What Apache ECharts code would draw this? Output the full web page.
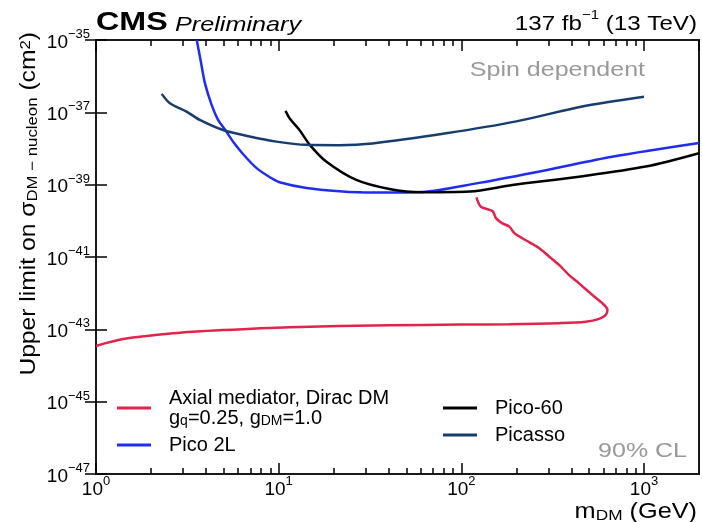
<!DOCTYPE html>
<html>
<head>
<meta charset="utf-8">
<script src="https://cdn.jsdelivr.net/npm/echarts@6/dist/echarts.min.js"></script>
<style>
html,body{margin:0;padding:0;background:#ffffff;}
#chart{width:702px;height:522px;}
</style>
</head>
<body>
<div id="chart"></div>
<script>
// ---- data (mass in GeV, cross section in cm^2) ----
const axialMass = [1.0, 1.41, 2.64, 4.96, 11.5, 40.4, 97.5, 183, 343, 480, 568, 618, 631, 592, 522, 441, 389, 343, 303, 267, 235, 216, 195, 183, 168, 155, 148, 128, 121];
const axialXsec = [3.47e-44, 5.37e-44, 7.76e-44, 9.55e-44, 1.15e-43, 1.29e-43, 1.35e-43, 1.38e-43, 1.48e-43, 1.62e-43, 1.95e-43, 2.51e-43, 3.47e-43, 5.25e-43, 8.91e-43, 1.86e-42, 3.16e-42, 6.03e-42, 1.02e-41, 1.74e-41, 2.57e-41, 3.31e-41, 4.57e-41, 6.92e-41, 8.51e-41, 1.17e-40, 1.86e-40, 2.45e-40, 4.47e-40];

const pico2LMass = [3.56, 3.75, 3.95, 4.3, 4.65, 5.07, 5.7, 6.5, 7.6, 9.0, 10.1, 14.2, 21.5, 32.6, 61, 125, 291, 669, 2000];
const pico2LXsec = [1.0e-35, 2.51e-36, 6.31e-37, 1.58e-37, 6.31e-38, 3.39e-38, 1.41e-38, 6.31e-39, 2.82e-39, 1.58e-39, 1.17e-39, 8.13e-40, 6.61e-40, 6.03e-40, 6.31e-40, 1.12e-39, 2.51e-39, 5.89e-39, 1.41e-38];

const pico60Mass = [10.9, 11.5, 13.0, 14.8, 18.2, 26.6, 40.4, 61, 111, 190, 441, 1020, 2000];
const pico60Xsec = [1.10e-37, 6.76e-38, 3.24e-38, 1.26e-38, 4.37e-39, 1.35e-39, 7.59e-40, 6.17e-40, 6.46e-40, 9.77e-40, 1.66e-39, 3.16e-39, 7.41e-39];

const picassoMass = [2.29, 2.54, 3.13, 3.70, 4.96, 6.94, 9.71, 14.2, 21.5, 32.6, 82.5, 200, 459, 1000];
const picassoXsec = [3.24e-37, 1.78e-37, 1.05e-37, 6.17e-38, 3.24e-38, 2.14e-38, 1.55e-38, 1.26e-38, 1.23e-38, 1.38e-38, 2.63e-38, 5.62e-38, 1.45e-37, 2.69e-37];

const seriesNames = ['Axial mediator, Dirac DM', 'Pico 2L', 'Pico-60', 'Picasso'];

// axis ranges and tick labels (decades)
const xRange = [1, 2000];
const yRange = [1e-47, 1e-35];
const xTickExponents = [0, 1, 2, 3];
const yTickExponents = [-47, -45, -43, -41, -39, -37, -35];
const minorMultipliers = [2, 3, 4, 5, 6, 7, 8, 9];
const minorDecades = [1, 10, 100];

// ---- styling ----
const FONT = '"Liberation Sans", Arial, Helvetica, sans-serif';
const RED = '#e2234c', BLUE = '#1f2cf2', BLACK = '#000000', NAVY = '#173d6e';

const L = Math.log10;
const toLog = (ms, ss) => ms.map((m, i) => [L(m), L(ss[i])]);
const minorVals = [];
minorDecades.forEach(d => minorMultipliers.forEach(k => minorVals.push(L(k * d))));

const X_MIN = L(xRange[0]), X_MAX = L(xRange[1]);
const Y_MIN = L(yRange[0]), Y_MAX = L(yRange[1]);

const tickRich = {
  b: {fontFamily: FONT, fontSize: 19, lineHeight: 24, color: '#000', verticalAlign: 'bottom'},
  s: {fontFamily: FONT, fontSize: 13, lineHeight: 13, color: '#000', verticalAlign: 'top'}
};
function expLabel(list) {
  return function (v) {
    const r = Math.round(v);
    if (Math.abs(v - r) > 1e-6 || list.indexOf(r) < 0) return '';
    return '{b|10}{s|' + (r < 0 ? '\u2212' + (-r) : String(r)) + '}';
  };
}
const tickLine = {color: '#000', width: 1.5};
function tickAxis(extra) {
  return Object.assign({
    type: 'value', axisLine: {show: false}, axisLabel: {show: false},
    splitLine: {show: false}
  }, extra);
}
const titleRich = {
  a: {fontFamily: FONT, fontSize: 22, lineHeight: 22, fill: '#000', verticalAlign: 'bottom'},
  s: {fontFamily: FONT, fontSize: 15, lineHeight: 12, fill: '#000', verticalAlign: 'bottom'},
  p: {fontFamily: FONT, fontSize: 15, lineHeight: 15, fill: '#000', verticalAlign: 'top'}
};

const option = {
  animation: false,
  backgroundColor: '#ffffff',
  grid: {left: 96, right: 3, top: 40, bottom: 48, show: true, borderColor: '#1a1a1a', borderWidth: 2,
    backgroundColor: 'transparent', containLabel: false, outerBoundsMode: 'none'},
  xAxis: [
    tickAxis({
      position: 'bottom', min: X_MIN, max: X_MAX, interval: 1,
      axisTick: {inside: true, length: 11, lineStyle: tickLine},
      axisLabel: {show: true, margin: 1, formatter: expLabel(xTickExponents), rich: tickRich, showMaxLabel: false}
    }),
    tickAxis({position: 'bottom', min: X_MIN, max: X_MAX, axisTick: {inside: true, length: 6, lineStyle: tickLine, customValues: minorVals}}),
    tickAxis({position: 'top', min: X_MIN, max: X_MAX, interval: 1, axisTick: {inside: true, length: 11, lineStyle: tickLine}}),
    tickAxis({position: 'top', min: X_MIN, max: X_MAX, axisTick: {inside: true, length: 6, lineStyle: tickLine, customValues: minorVals}})
  ],
  yAxis: [
    tickAxis({
      position: 'left', min: Y_MIN, max: Y_MAX, interval: 2,
      axisTick: {inside: true, length: 11, lineStyle: tickLine},
      axisLabel: {show: true, margin: 6, formatter: expLabel(yTickExponents), rich: tickRich}
    }),
    tickAxis({position: 'right', min: Y_MIN, max: Y_MAX, interval: 2, axisTick: {inside: true, length: 11, lineStyle: tickLine}})
  ],
  legend: [
    {name: seriesNames[0], left: 117, top: 388},
    {name: seriesNames[1], left: 117, top: 435},
    {name: seriesNames[2], left: 443, top: 398},
    {name: seriesNames[3], left: 443, top: 425}
  ].map(l => ({
    data: [l.name], left: l.left, top: l.top, orient: 'vertical', padding: 0,
    icon: 'rect', itemWidth: 34, itemHeight: 3, selectedMode: false,
    formatter: function (name) {
      if (name === seriesNames[0]) return '{t|Axial mediator, Dirac DM}\n{t|g}{s|q}{t|=0.25, g}{s|DM}{t|=1.0}';
      return '{t|' + name + '}';
    },
    textStyle: {fontFamily: FONT, fontSize: 20, color: '#000', padding: [0, 0, 0, 13],
      rich: {
        t: {fontFamily: FONT, fontSize: 20, lineHeight: 20, color: '#000', verticalAlign: 'bottom'},
        s: {fontFamily: FONT, fontSize: 14, lineHeight: 14, color: '#000', verticalAlign: 'bottom'}
      }}
  })),
  graphic: [
    {type: 'text', x: 96, y: 23, scaleX: 1.24, style: {text: 'CMS', font: 'bold 26px ' + FONT, fill: '#000', align: 'left', verticalAlign: 'middle'}},
    {type: 'text', x: 175, y: 25, scaleX: 1.2, style: {text: 'Preliminary', font: 'italic 21px ' + FONT, fill: '#000', align: 'left', verticalAlign: 'middle'}},
    {type: 'text', x: 697, y: 22, scaleX: 1.15, style: {text: '{a|137 fb}{s|\u22121}{a| (13 TeV)}', align: 'right', verticalAlign: 'middle',
      rich: {a: {fontFamily: FONT, fontSize: 21, lineHeight: 26, verticalAlign: 'bottom', fill: '#000'}, s: {fontFamily: FONT, fontSize: 13, lineHeight: 13, verticalAlign: 'top', fill: '#000'}}}},
    {type: 'text', x: 645, y: 70, scaleX: 1.25, style: {text: 'Spin dependent', font: '20px ' + FONT, fill: '#999999', align: 'right', verticalAlign: 'middle'}},
    {type: 'text', x: 687, y: 451, scaleX: 1.19, style: {text: '90% CL', font: '21px ' + FONT, fill: '#999999', align: 'right', verticalAlign: 'middle'}},
    // x-axis title
    {type: 'text', x: 697, y: 523, scaleX: 1.15, style: {text: '{a|m}{s|DM}{a| (GeV)}', align: 'right', verticalAlign: 'bottom', rich: titleRich}},
    // y-axis title (rotated, flush with the top of the frame)
    {type: 'text', x: 40, y: 32, rotation: Math.PI / 2, scaleX: 1.12, style: {text: '{a|Upper limit on \u03c3}{s|DM \u2212 nucleon}{a| (cm}{p|2}{a|)}', align: 'right', verticalAlign: 'bottom', rich: titleRich}}
  ],
  series: [
    {name: seriesNames[0], data: toLog(axialMass, axialXsec), color: RED},
    {name: seriesNames[1], data: toLog(pico2LMass, pico2LXsec), color: BLUE},
    {name: seriesNames[2], data: toLog(pico60Mass, pico60Xsec), color: BLACK},
    {name: seriesNames[3], data: toLog(picassoMass, picassoXsec), color: NAVY}
  ].map(s => ({
    type: 'line', name: s.name, data: s.data, xAxisIndex: 0, yAxisIndex: 0,
    showSymbol: false, symbol: 'none', smooth: 0.3,
    color: s.color, itemStyle: {color: s.color},
    lineStyle: {width: 2.5, color: s.color}
  }))
};

const chart = echarts.init(document.getElementById('chart'), null, {renderer: 'canvas'});
chart.setOption(option);
</script>
</body>
</html>
